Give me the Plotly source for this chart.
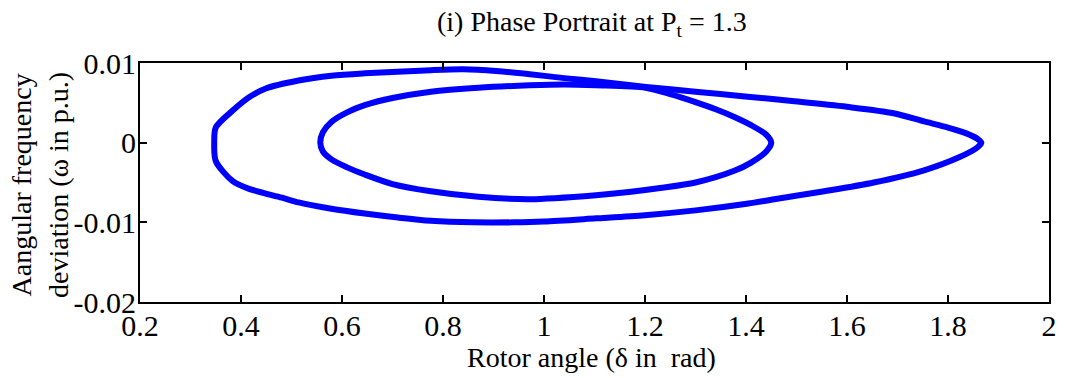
import plotly.graph_objects as go

# outer orbit (delta in rad, omega in p.u.)
outer_delta = [0.347, 0.350, 0.383, 0.416, 0.449, 0.514, 0.579, 0.645, 0.710, 0.776, 0.840,
               0.905, 0.972, 1.040, 1.103, 1.202, 1.300, 1.398, 1.496, 1.600, 1.692, 1.751,
               1.800, 1.835, 1.858, 1.866,
               1.858, 1.823, 1.751, 1.653, 1.555, 1.456, 1.398, 1.300, 1.200,
               1.103, 1.000, 0.940, 0.860, 0.776, 0.711, 0.645, 0.579, 0.514, 0.481, 0.416,
               0.383, 0.350, 0.347]
outer_omega = [0.0, 0.0019, 0.0040, 0.0057, 0.0068, 0.0078, 0.0084, 0.0087, 0.0089, 0.0091, 0.0092,
               0.0090, 0.0086, 0.0081, 0.0077, 0.0070, 0.0064, 0.0058, 0.0052, 0.0045, 0.0037, 0.0027,
               0.0019, 0.0012, 0.0005, 0.0,
               -0.0006, -0.0018, -0.0035, -0.0050, -0.0061, -0.0071, -0.0077, -0.0085, -0.0091,
               -0.0095, -0.0099, -0.0100, -0.0100, -0.0098, -0.0094, -0.0089, -0.0083, -0.0075, -0.0069, -0.0058,
               -0.0048, -0.0023, 0.0]

# inner orbit
inner_delta = [0.557, 0.562, 0.579, 0.610, 0.645, 0.700, 0.776, 0.870, 0.972, 1.040, 1.103,
               1.201, 1.250, 1.300, 1.340, 1.378, 1.410, 1.440, 1.450,
               1.440, 1.410, 1.378, 1.300, 1.230, 1.168, 1.103, 0.972, 0.870, 0.776,
               0.700, 0.645, 0.610, 0.579, 0.562, 0.557]
inner_omega = [0.0, 0.0013, 0.0026, 0.0038, 0.0047, 0.0056, 0.0064, 0.0069, 0.0072, 0.0073, 0.0072,
               0.0069, 0.0061, 0.0051, 0.0042, 0.0032, 0.0022, 0.0010, 0.0,
               -0.0011, -0.0025, -0.0035, -0.0050, -0.0057, -0.0062, -0.0066, -0.0071, -0.0068, -0.0061,
               -0.0052, -0.0040, -0.0031, -0.0021, -0.0011, 0.0]

x_ticks = [0.2, 0.4, 0.6, 0.8, 1.0, 1.2, 1.4, 1.6, 1.8, 2.0]
x_labels = ["0.2", "0.4", "0.6", "0.8", "1", "1.2", "1.4", "1.6", "1.8", "2"]
y_ticks = [0.01, 0.0, -0.01, -0.02]
y_labels = ["0.01", "0", "-0.01", "-0.02"]

serif = "Liberation Serif, Times New Roman, serif"

fig = go.Figure()
for xs, ys in [(outer_delta, outer_omega), (inner_delta, inner_omega)]:
    fig.add_trace(go.Scatter(x=xs, y=ys, mode="lines",
                             line=dict(color="#0000ff", width=6, shape="spline", smoothing=0.8),
                             showlegend=False, hoverinfo="skip"))

axis_style = dict(showgrid=False, zeroline=False, showline=True, linecolor="black", linewidth=2,
                  mirror="ticks", ticks="inside", ticklen=7, tickwidth=2, tickcolor="black",
                  ticklabeloverflow="allow", ticklabelstandoff=-4,
                  tickfont=dict(family=serif, size=30, color="black"))

fig.update_xaxes(range=[0.2, 2.0], tickvals=x_ticks, ticktext=x_labels, **axis_style)
fig.update_yaxes(range=[-0.02, 0.01], tickvals=y_ticks, ticktext=y_labels, **axis_style)

# page body has an 8px margin, so the figure is 8px smaller and the margins shifted
fig.update_layout(
    width=1060, height=370,
    margin=dict(l=132, r=11, t=55, b=76),
    paper_bgcolor="white", plot_bgcolor="white",
    font=dict(family=serif, color="black"),
    annotations=[
        dict(text="(i) Phase Portrait at P<sub>t</sub> = 1.3", xref="paper", yref="paper",
             x=0.497, y=1.0, xanchor="center", yanchor="middle", yshift=40,
             showarrow=False, font=dict(size=28)),
        dict(text="Rotor angle (δ in  rad)", xref="paper", yref="paper",
             x=0.497, y=0, xanchor="center", yanchor="middle", yshift=-55,
             showarrow=False, font=dict(size=28)),
        dict(text="Aangular frequency<br>deviation (ω in p.u.)", xref="paper", yref="paper",
             x=0, y=0.49, xanchor="center", yanchor="middle", xshift=-100,
             showarrow=False, textangle=-90, font=dict(size=28)),
    ],
)

fig.write_html("out.html")
